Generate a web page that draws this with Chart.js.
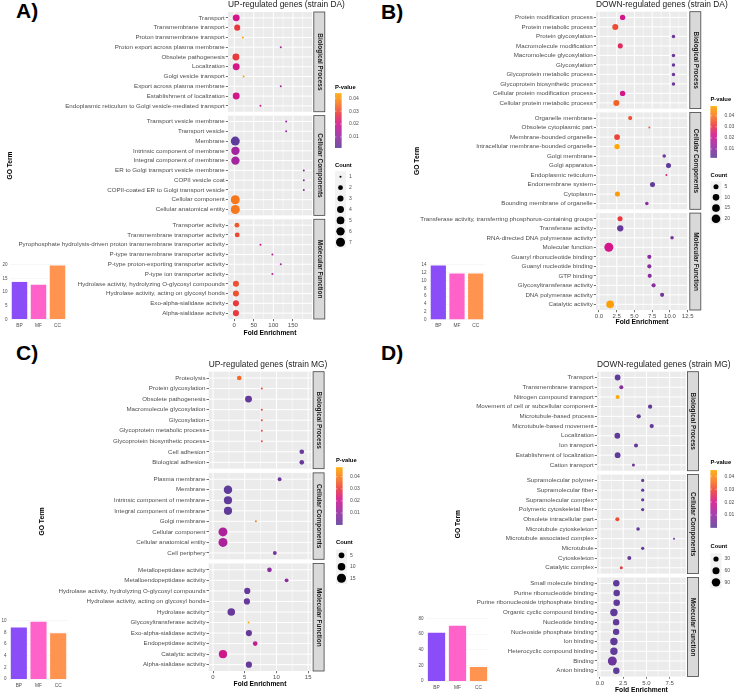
<!DOCTYPE html>
<html>
<head>
<meta charset="utf-8">
<script src="https://cdn.jsdelivr.net/npm/chart.js@4.4.1/dist/chart.umd.min.js"></script>
<style>
  body { margin: 0; background: #fff; width: 740px; height: 699px; position: relative; overflow: hidden; font-family: "Liberation Sans", Arial, sans-serif; }
  canvas { position: absolute; }
  .tag { position: absolute; font-weight: bold; font-size: 21px; line-height: 21px; color: #000; }
</style>
</head>
<body>
<div class="tag" style="left:16px;top:0px">A)</div>
<div class="tag" style="left:381px;top:1px">B)</div>
<div class="tag" style="left:16px;top:342px">C)</div>
<div class="tag" style="left:381px;top:342px">D)</div>

<canvas id="mainA"></canvas>
<canvas id="mainB"></canvas>
<canvas id="mainC"></canvas>
<canvas id="mainD"></canvas>
<canvas id="insetA"></canvas>
<canvas id="insetB"></canvas>
<canvas id="insetC"></canvas>
<canvas id="insetD"></canvas>

<script>
// ---------- data ----------
const facetNames = ['Biological Process', 'Cellular Components', 'Molecular Function'];
const goCats = ['BP', 'MF', 'CC'];
const goColors = ['#8B4DF7', '#FF62C9', '#FF9350'];

// A) UP-regulated genes (strain DA)
const aTerms = [
  'Transport', 'Transmembrane transport', 'Proton transmembrane transport', 'Proton export across plasma membrane',
  'Obsolete pathogenesis', 'Localization', 'Golgi vesicle transport', 'Export across plasma membrane',
  'Establishment of localization', 'Endoplasmic reticulum to Golgi vesicle-mediated transport',
  'Transport vesicle membrane', 'Transport vesicle', 'Membrane', 'Intrinsic component of membrane',
  'Integral component of membrane', 'ER to Golgi transport vesicle membrane', 'COPII vesicle coat',
  'COPII-coated ER to Golgi transport vesicle', 'Cellular component', 'Cellular anatomical entity',
  'Transporter activity', 'Transmembrane transporter activity',
  'Pyrophosphate hydrolysis-driven proton transmembrane transporter activity',
  'P-type transmembrane transporter activity', 'P-type proton-exporting transporter activity',
  'P-type ion transporter activity', 'Hydrolase activity, hydrolyzing O-glycosyl compounds',
  'Hydrolase activity, acting on glycosyl bonds', 'Exo-alpha-sialidase activity', 'Alpha-sialidase activity'
];
const aFacetRows = [10, 10, 10];
const aFold = [5, 7.6, 22, 119, 4.3, 5, 24, 119, 5, 67,
  133, 133, 2.6, 3, 3, 178, 178, 178, 2.6, 2.6,
  6.9, 7.6, 67, 97.6, 119, 97.6, 4.3, 4.3, 4.3, 4.3];
const aCount = [4, 3, 1, 1, 4, 4, 1, 1, 4, 1,
  1, 1, 7, 6, 6, 1, 1, 1, 7, 7,
  2, 2, 1, 1, 1, 1, 3, 3, 3, 3];
const aPval = [0.0207, 0.0279, 0.0439, 0.0131, 0.028, 0.021, 0.0426, 0.0131, 0.0207, 0.0194,
  0.010, 0.010, 0.0017, 0.0131, 0.0131, 0.0068, 0.0068, 0.0068, 0.0363, 0.0363,
  0.032, 0.030, 0.0194, 0.0165, 0.014, 0.0165, 0.031, 0.031, 0.0279, 0.0279];
const aFoldTicks = [0, 50, 100, 150];
const aPBreaks = [0.01, 0.02, 0.03, 0.04];
const aCountBreaks = [1, 2, 3, 4, 5, 6, 7];
const aInset = [14, 13, 20];
const aInsetTicks = [0, 5, 10, 15, 20];

// B) DOWN-regulated genes (strain DA)
const bTerms = [
  'Protein modification process', 'Protein metabolic process', 'Protein glycosylation', 'Macromolecule modification',
  'Macromolecule glycosylation', 'Glycosylation', 'Glycoprotein metabolic process', 'Glycoprotein biosynthetic process',
  'Cellular protein modification process', 'Cellular protein metabolic process',
  'Organelle membrane', 'Obsolete cytoplasmic part', 'Membrane-bounded organelle', 'Intracellular membrane-bounded organelle',
  'Golgi membrane', 'Golgi apparatus', 'Endoplasmic reticulum', 'Endomembrane system', 'Cytoplasm', 'Bounding membrane of organelle',
  'Transferase activity, transferring phosphorus-containing groups', 'Transferase activity', 'RNA-directed DNA polymerase activity',
  'Molecular function', 'Guanyl ribonucleotide binding', 'Guanyl nucleotide binding', 'GTP binding',
  'Glycosyltransferase activity', 'DNA polymerase activity', 'Catalytic activity'
];
const bFacetRows = [10, 10, 10];
const bFold = [3.33, 2.3, 10.5, 3.0, 10.5, 10.5, 10.5, 10.5, 3.33, 2.45,
  4.4, 7.1, 2.55, 2.55, 9.2, 9.8, 9.5, 7.55, 2.6, 6.75,
  2.97, 3.0, 10.3, 1.39, 7.1, 7.1, 7.15, 7.7, 8.9, 1.57];
const bCount = [6, 8, 2, 5, 2, 2, 2, 2, 6, 8,
  3, 1, 7, 6, 2, 5, 1, 5, 5, 2,
  5, 9, 2, 22, 3, 3, 3, 3, 3, 15];
const bPval = [0.0233, 0.034, 0.0048, 0.028, 0.0048, 0.0048, 0.0048, 0.0048, 0.0233, 0.0372,
  0.0349, 0.036, 0.033, 0.0488, 0.0062, 0.0025, 0.0257, 0.0034, 0.0465, 0.0108,
  0.0312, 0.0039, 0.0071, 0.0233, 0.0104, 0.0104, 0.0104, 0.0104, 0.0057, 0.047];
const bFoldTicks = [0, 2.5, 5, 7.5, 10, 12.5];
const bPBreaks = [0.01, 0.02, 0.03, 0.04];
const bCountBreaks = [5, 10, 15, 20];
const bInset = [14, 12, 12];
const bInsetTicks = [0, 2, 4, 6, 8, 10, 12, 14];

// C) UP-regulated genes (strain MG)
const cTerms = [
  'Proteolysis', 'Protein glycosylation', 'Obsolete pathogenesis', 'Macromolecule glycosylation', 'Glycosylation',
  'Glycoprotein metabolic process', 'Glycoprotein biosynthetic process', 'Cell adhesion', 'Biological adhesion',
  'Plasma membrane', 'Membrane', 'Intrinsic component of membrane', 'Integral component of membrane',
  'Golgi membrane', 'Cellular component', 'Cellular anatomical entity', 'Cell periphery',
  'Metallopeptidase activity', 'Metalloendopeptidase activity', 'Hydrolase activity, hydrolyzing O-glycosyl compounds',
  'Hydrolase activity, acting on glycosyl bonds', 'Hydrolase activity', 'Glycosyltransferase activity',
  'Exo-alpha-sialidase activity', 'Endopeptidase activity', 'Catalytic activity', 'Alpha-sialidase activity'
];
const cFacetRows = [9, 8, 10];
const cFold = [4.14, 7.7, 5.6, 7.7, 7.7, 7.7, 7.7, 14.0, 14.0,
  10.5, 2.36, 2.36, 2.36, 6.76, 1.57, 1.57, 9.75,
  8.9, 11.6, 5.4, 5.35, 2.88, 5.6, 5.66, 6.65, 1.57, 5.66];
const cCount = [3, 1, 8, 1, 1, 1, 1, 3, 3,
  2, 13, 12, 12, 1, 15, 15, 2,
  3, 2, 6, 6, 10, 1, 6, 3, 12, 6];
const cPval = [0.0369, 0.0326, 0.0013, 0.0326, 0.0326, 0.0326, 0.0326, 0.0022, 0.0022,
  0.0032, 0.0003, 0.0008, 0.0008, 0.0407, 0.0146, 0.0146, 0.0051,
  0.0089, 0.0098, 0.0017, 0.0017, 0.0017, 0.0478, 0.0017, 0.0184, 0.0207, 0.0017];
const cFoldTicks = [0, 5, 10, 15];
const cPBreaks = [0.01, 0.02, 0.03, 0.04];
const cCountBreaks = [5, 10, 15];
const cInset = [9, 10, 8];
const cInsetTicks = [0, 2, 4, 6, 8, 10];

// D) DOWN-regulated genes (strain MG)
const dTerms = [
  'Transport', 'Transmembrane transport', 'Nitrogen compound transport', 'Movement of cell or subcellular component',
  'Microtubule-based process', 'Microtubule-based movement', 'Localization', 'Ion transport',
  'Establishment of localization', 'Cation transport',
  'Supramolecular polymer', 'Supramolecular fiber', 'Supramolecular complex', 'Polymeric cytoskeletal fiber',
  'Obsolete intracellular part', 'Microtubule cytoskeleton', 'Microtubule associated complex', 'Microtubule',
  'Cytoskeleton', 'Catalytic complex',
  'Small molecule binding', 'Purine ribonucleotide binding', 'Purine ribonucleoside triphosphate binding',
  'Organic cyclic compound binding', 'Nucleotide binding', 'Nucleoside phosphate binding', 'Ion binding',
  'Heterocyclic compound binding', 'Binding', 'Anion binding'
];
const dFacetRows = [10, 10, 10];
const dFold = [1.9, 2.3, 1.9, 5.4, 4.17, 5.57, 1.87, 3.88, 1.9, 3.6,
  4.6, 4.6, 4.6, 4.6, 1.87, 4.1, 7.97, 4.6, 3.16, 2.3,
  1.76, 1.8, 1.8, 1.5, 1.74, 1.74, 1.5, 1.5, 1.33, 1.76];
const dCount = [38, 18, 18, 20, 20, 20, 38, 18, 38, 12,
  13, 13, 13, 13, 18, 15, 10, 13, 18, 12,
  48, 50, 50, 67, 48, 48, 67, 67, 105, 48];
const dPval = [0.0010, 0.0085, 0.0449, 0.0012, 0.0012, 0.0012, 0.0008, 0.0020, 0.0008, 0.0030,
  0.0015, 0.0015, 0.0015, 0.0015, 0.0307, 0.0015, 0.0040, 0.0015, 0.0015, 0.0285,
  0.0010, 0.0010, 0.0010, 0.0008, 0.0010, 0.0010, 0.0008, 0.0008, 0.0030, 0.0005];
const dFoldTicks = [0, 2.5, 5, 7.5];
const dPBreaks = [0.01, 0.02, 0.03, 0.04];
const dCountBreaks = [30, 60, 90];
const dInset = [63, 72, 19];
const dInsetTicks = [0, 20, 40, 60, 80];

// ---------- helpers ----------
const FONT = '"Liberation Sans", Arial, sans-serif';
const GAP = 0.4;
const pStops = [
  [0.00, [94, 60, 153]],
  [0.25, [158, 38, 160]],
  [0.45, [211, 22, 138]],
  [0.62, [232, 56, 62]],
  [0.80, [246, 115, 31]],
  [1.00, [255, 168, 0]]
];

function gradient(t) {
  t = Math.max(0, Math.min(1, t));
  for (let i = 1; i < pStops.length; i++) {
    if (t <= pStops[i][0]) {
      const [t0, c0] = pStops[i - 1], [t1, c1] = pStops[i];
      const k = (t - t0) / (t1 - t0);
      const c = c0.map((v, j) => Math.round(v + (c1[j] - v) * k));
      return `rgb(${c[0]},${c[1]},${c[2]})`;
    }
  }
  return 'rgb(255,168,0)';
}

function sizeOf(c, cMin, cMax) {
  return 1 + 3.5 * Math.sqrt((c - cMin) / (cMax - cMin));
}

function rowLayout(facetRows) {
  const ys = [], facets = [];
  let top = 0;
  facetRows.forEach(n => {
    for (let i = 0; i < n; i++) ys.push(top + 0.6 + i);
    facets.push([top, top + n + 0.2]);
    top += n + 0.2 + GAP;
  });
  return { ys, facets, total: top - GAP };
}

function place(canvas, left, top, w, h) {
  canvas.width = w;
  canvas.height = h;
  canvas.style.left = left + 'px';
  canvas.style.top = top + 'px';
}

function panelDecor(p, rows, pMin, pMax, cMin, cMax) {
  const L = p.layout;
  return {
    id: 'decor' + p.id,
    beforeDraw(chart) {
      const { ctx, chartArea: ca, scales: { x, y } } = chart;
      const ticks = p.foldTicks;
      const step = ticks[1] - ticks[0];
      const minors = [];
      for (let i = 0; i < ticks.length - 1; i++) minors.push(ticks[i] + step / 2);
      minors.push(ticks[0] - step / 2, ticks[ticks.length - 1] + step / 2);
      ctx.save();
      rows.facets.forEach(([t, b], fi) => {
        const top = y.getPixelForValue(t), bot = y.getPixelForValue(b);
        ctx.fillStyle = '#EBEBEB';
        ctx.fillRect(ca.left, top, ca.right - ca.left, bot - top);
        ctx.strokeStyle = '#FFFFFF';
        ctx.lineWidth = 0.5;
        minors.forEach(v => {
          if (v <= x.min || v >= x.max) return;
          const px = x.getPixelForValue(v);
          ctx.beginPath(); ctx.moveTo(px, top); ctx.lineTo(px, bot); ctx.stroke();
        });
        ctx.lineWidth = 1;
        ticks.forEach(v => {
          const px = x.getPixelForValue(v);
          ctx.beginPath(); ctx.moveTo(px, top); ctx.lineTo(px, bot); ctx.stroke();
        });
        rows.ys.forEach(v => {
          if (v < t || v > b) return;
          const py = y.getPixelForValue(v);
          ctx.beginPath(); ctx.moveTo(ca.left, py); ctx.lineTo(ca.right, py); ctx.stroke();
        });
      });
      ctx.restore();
    },
    afterDraw(chart) {
      const { ctx, chartArea: ca, scales: { y } } = chart;
      ctx.save();
      // title
      ctx.fillStyle = '#1A1A1A';
      ctx.font = '8.4px ' + FONT;
      ctx.textAlign = 'left';
      ctx.textBaseline = 'middle';
      ctx.fillText(p.title, ca.left, ca.top - 7.5);
      // strips
      rows.facets.forEach(([t, b], fi) => {
        const top = y.getPixelForValue(t), bot = y.getPixelForValue(b);
        const sx = ca.right + 1.8, sw = 11;
        ctx.fillStyle = '#D9D9D9';
        ctx.fillRect(sx, top, sw, bot - top);
        ctx.strokeStyle = '#444';
        ctx.lineWidth = 0.8;
        ctx.strokeRect(sx, top, sw, bot - top);
        ctx.save();
        ctx.beginPath(); ctx.rect(sx, top, sw, bot - top); ctx.clip();
        ctx.translate(sx + sw / 2, (top + bot) / 2);
        ctx.rotate(Math.PI / 2);
        ctx.fillStyle = '#1A1A1A';
        ctx.font = 'bold 6.4px ' + FONT;
        ctx.textAlign = 'center';
        ctx.textBaseline = 'middle';
        ctx.fillText(facetNames[fi], 0, 0);
        ctx.restore();
      });
      // P-value colourbar
      const lx = L.legendX;
      ctx.fillStyle = '#000';
      ctx.font = 'bold 5.8px ' + FONT;
      ctx.textAlign = 'left';
      ctx.textBaseline = 'middle';
      ctx.fillText('P-value', lx, L.pTitleY);
      const bt = L.barTop, bb = L.barBottom, bw = 6.5;
      for (let yy = bt; yy < bb; yy += 0.5) {
        ctx.fillStyle = gradient((bb - yy) / (bb - bt));
        ctx.fillRect(lx, yy, bw, 0.7);
      }
      ctx.font = '5px ' + FONT;
      p.pBreaks.forEach(v => {
        const py = bb - (v - pMin) / (pMax - pMin) * (bb - bt);
        ctx.strokeStyle = '#FFF';
        ctx.lineWidth = 0.5;
        ctx.beginPath(); ctx.moveTo(lx, py); ctx.lineTo(lx + 1.3, py);
        ctx.moveTo(lx + bw - 1.3, py); ctx.lineTo(lx + bw, py); ctx.stroke();
        ctx.fillStyle = '#4D4D4D';
        ctx.fillText(v.toFixed(2), lx + 14, py);
      });
      // Count legend
      ctx.fillStyle = '#000';
      ctx.font = 'bold 5.8px ' + FONT;
      ctx.fillText('Count', lx, L.countTitleY);
      ctx.font = '5px ' + FONT;
      p.countBreaks.forEach((c, i) => {
        const cy = L.countTop + i * L.countStep;
        ctx.fillStyle = '#F2F2F2';
        ctx.fillRect(lx, cy - L.countStep / 2, 11, L.countStep);
        ctx.fillStyle = '#000';
        ctx.beginPath(); ctx.arc(lx + 5.5, cy, sizeOf(c, cMin, cMax), 0, Math.PI * 2); ctx.fill();
        ctx.fillStyle = '#4D4D4D';
        ctx.fillText(String(c), lx + 14, cy);
      });
      ctx.restore();
    }
  };
}

function buildPanel(p) {
  const L = p.layout;
  const canvas = document.getElementById(p.id);
  place(canvas, L.pageX, L.pageY, L.w, L.h);
  const rows = rowLayout(p.facetRows);
  const pMin = Math.min(...p.pval), pMax = Math.max(...p.pval);
  const cMin = Math.min(...p.count), cMax = Math.max(...p.count);
  const lh = 6.7 * 1.2;
  const goPad = L.goX - lh / 2;
  new Chart(canvas, {
    type: 'bubble',
    data: {
      datasets: [{
        data: p.fold.map((f, i) => ({ x: f, y: rows.ys[i], r: sizeOf(p.count[i], cMin, cMax) })),
        backgroundColor: p.pval.map(v => gradient((v - pMin) / (pMax - pMin))),
        borderWidth: 0,
        hoverRadius: 0
      }]
    },
    options: {
      responsive: false,
      animation: false,
      events: [],
      layout: { padding: { left: goPad, top: L.top, right: L.w - L.right, bottom: 0 } },
      plugins: { legend: { display: false }, tooltip: { enabled: false } },
      scales: {
        x: {
          type: 'linear',
          min: p.xMin,
          max: p.xMax,
          afterBuildTicks: s => { s.ticks = p.foldTicks.map(v => ({ value: v })); },
          afterFit: s => { s.height = L.h - L.bottom; },
          ticks: {
            autoSkip: false, maxRotation: 0, padding: 1,
            color: '#4D4D4D', font: { family: FONT, size: 6 },
            callback: v => v.toFixed(p.decimals)
          },
          grid: { drawOnChartArea: false, tickLength: 2.2, tickColor: '#333', tickWidth: 0.7 },
          border: { display: false },
          title: {
            display: true, text: 'Fold Enrichment', color: '#000',
            font: { family: FONT, size: 6.7, weight: 'bold' },
            padding: { top: 0, bottom: L.h - L.xTitleY - lh / 2 }
          }
        },
        y: {
          type: 'linear',
          reverse: true,
          min: 0,
          max: rows.total,
          afterBuildTicks: s => { s.ticks = rows.ys.map(v => ({ value: v })); },
          afterFit: s => { s.width = L.left - goPad; },
          ticks: {
            autoSkip: false, padding: 1,
            color: '#4D4D4D', font: { family: FONT, size: 6.2 },
            callback: (v, i) => p.terms[i]
          },
          grid: { drawOnChartArea: false, tickLength: 2.2, tickColor: '#333', tickWidth: 0.7 },
          border: { display: false },
          title: {
            display: true, text: 'GO Term', color: '#000',
            font: { family: FONT, size: 6.7, weight: 'bold' },
            padding: { top: 0, bottom: 0 }
          }
        }
      }
    },
    plugins: [panelDecor(p, rows, pMin, pMax, cMin, cMax)]
  });
}

function buildInset(id, vals, ticks, yMin, yMax, area) {
  const canvas = document.getElementById(id);
  const padL = 10, padT = 8;
  const w = Math.ceil(area.right - area.left + 20), h = Math.ceil(area.bottom - area.top + 18);
  place(canvas, area.left - padL, area.top - padT, w, h);
  new Chart(canvas, {
    type: 'bar',
    data: {
      labels: goCats,
      datasets: [{
        data: vals,
        backgroundColor: goColors,
        borderColor: 'rgba(255,255,255,0.55)',
        borderWidth: 0.8,
        barPercentage: 0.9,
        categoryPercentage: 1
      }]
    },
    options: {
      responsive: false,
      animation: false,
      events: [],
      layout: { padding: { left: 0, top: padT, right: w - padL - (area.right - area.left), bottom: 0 } },
      plugins: { legend: { display: false }, tooltip: { enabled: false } },
      scales: {
        x: {
          afterFit: s => { s.height = h - padT - (area.bottom - area.top); },
          grid: { display: false, drawTicks: false },
          border: { display: false },
          ticks: { padding: 0.5, color: '#4D4D4D', font: { family: FONT, size: 4.8 } }
        },
        y: {
          min: yMin,
          max: yMax,
          afterBuildTicks: s => { s.ticks = ticks.map(v => ({ value: v })); },
          afterFit: s => { s.width = padL; },
          grid: { color: '#EFEFEF', lineWidth: 0.5, drawTicks: false },
          border: { display: false },
          ticks: { padding: 2.5, color: '#4D4D4D', font: { family: FONT, size: 4.5 } }
        }
      }
    }
  });
}

// ---------- build ----------
buildPanel({
  id: 'mainA', title: 'UP-regulated genes (strain DA)',
  terms: aTerms, facetRows: aFacetRows, fold: aFold, count: aCount, pval: aPval,
  foldTicks: aFoldTicks, decimals: 0, pBreaks: aPBreaks, countBreaks: aCountBreaks,
  xMin: -16, xMax: 199,
  layout: { pageX: 0, pageY: 0, w: 370, h: 340, left: 228, right: 312, top: 12, bottom: 319,
    goX: 10, xTitleY: 333, legendX: 335, pTitleY: 87.3, barTop: 93.3, barBottom: 147.7,
    countTitleY: 165, countTop: 176.7, countStep: 10.93 }
});
buildPanel({
  id: 'mainB', title: 'DOWN-regulated genes (strain DA)',
  terms: bTerms, facetRows: bFacetRows, fold: bFold, count: bCount, pval: bPval,
  foldTicks: bFoldTicks, decimals: 1, pBreaks: bPBreaks, countBreaks: bCountBreaks,
  xMin: -0.42, xMax: 12.55,
  layout: { pageX: 370, pageY: 0, w: 370, h: 340, left: 226, right: 318, top: 11.7, bottom: 310,
    goX: 47, xTitleY: 321.7, legendX: 340.5, pTitleY: 99.3, barTop: 106, barBottom: 157.3,
    countTitleY: 175.3, countTop: 186.7, countStep: 10.67 }
});
buildPanel({
  id: 'mainC', title: 'UP-regulated genes (strain MG)',
  terms: cTerms, facetRows: cFacetRows, fold: cFold, count: cCount, pval: cPval,
  foldTicks: cFoldTicks, decimals: 0, pBreaks: cPBreaks, countBreaks: cCountBreaks,
  xMin: -0.68, xMax: 15.5,
  layout: { pageX: 0, pageY: 340, w: 370, h: 359, left: 208.7, right: 311.3, top: 31.7, bottom: 331,
    goX: 42, xTitleY: 343.7, legendX: 336, pTitleY: 120.7, barTop: 127.3, barBottom: 184.7,
    countTitleY: 202.7, countTop: 215.3, countStep: 11.5 }
});
buildPanel({
  id: 'mainD', title: 'DOWN-regulated genes (strain MG)',
  terms: dTerms, facetRows: dFacetRows, fold: dFold, count: dCount, pval: dPval,
  foldTicks: dFoldTicks, decimals: 1, pBreaks: dPBreaks, countBreaks: dCountBreaks,
  xMin: -0.32, xMax: 9.23,
  layout: { pageX: 370, pageY: 340, w: 370, h: 359, left: 227, right: 315.7, top: 31.7, bottom: 336.5,
    goX: 88, xTitleY: 350.3, legendX: 340.5, pTitleY: 122.7, barTop: 130, barBottom: 187.3,
    countTitleY: 206.7, countTop: 219, countStep: 11.67 }
});

buildInset('insetA', aInset, aInsetTicks, -1, 21, { left: 10, right: 67, top: 261.6, bottom: 321.7 });
buildInset('insetB', bInset, bInsetTicks, -0.7, 14.7, { left: 429, right: 485, top: 261.5, bottom: 322 });
buildInset('insetC', cInset, cInsetTicks, -0.5, 10.5, { left: 9, right: 68, top: 618.1, bottom: 682.2 });
buildInset('insetD', dInset, dInsetTicks, -4, 82, { left: 426, right: 489, top: 617.1, bottom: 684.4 });
</script>
</body>
</html>
